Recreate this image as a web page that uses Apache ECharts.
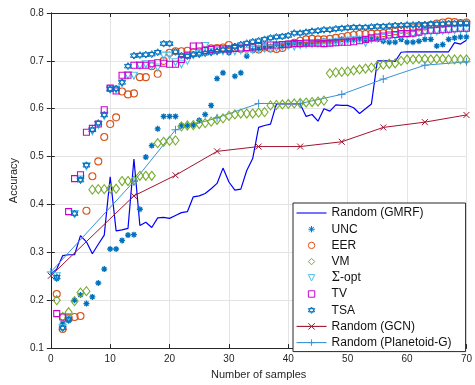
<!DOCTYPE html>
<html><head><meta charset="utf-8">
<script src="https://cdn.jsdelivr.net/npm/echarts@6/dist/echarts.min.js"></script>
<style>html,body{margin:0;padding:0;background:#fff}#c{width:475px;height:385px}</style>
</head><body><div id="c"></div>
<script>
// ---- data ----
const gmrfX = [];
for (let i = 0; i <= 70; i++) gmrfX.push(i);
const gmrf = [0.255,0.265,0.293,0.295,0.295,0.335,0.322,0.297,0.317,0.336,0.458,0.345,0.347,0.350,0.495,0.356,0.363,0.352,0.372,0.373,
  0.371,0.377,0.383,0.385,0.416,0.418,0.423,0.433,0.444,0.476,0.447,0.430,0.432,0.471,0.496,0.561,0.565,0.568,0.610,0.610,
  0.610,0.610,0.610,0.584,0.588,0.574,0.600,0.595,0.608,0.607,0.607,0.602,0.590,0.600,0.610,0.700,0.700,0.700,0.699,0.718,
  0.719,0.719,0.719,0.719,0.719,0.719,0.719,0.719,0.738,0.735,0.743];
const sampleX = [];
for (let i = 1; i <= 70; i++) sampleX.push(i);
const unc = [0.245,0.152,0.157,0.200,0.211,0.193,0.207,0.236,0.265,0.307,0.307,0.325,0.336,0.337,0.390,0.499,0.523,0.558,0.584,0.584,
  0.584,0.565,0.565,0.566,0.576,0.588,0.607,0.663,0.675,0.717,0.668,0.675,0.710,0.722,0.726,0.728,0.730,0.735,0.733,0.736,
  0.738,0.736,0.735,0.738,0.740,0.742,0.740,0.742,0.745,0.744,0.745,0.746,0.744,0.746,0.745,0.741,0.739,0.739,0.745,0.739,
  0.739,0.741,0.745,0.745,0.731,0.734,0.745,0.748,0.750,0.750];
const eer = [0.213,0.140,0.163,0.165,0.167,0.387,0.459,0.490,0.541,0.568,0.582,0.636,0.630,0.632,0.666,0.666,0.689,0.673,0.700,0.717,
  0.720,0.720,0.721,0.718,0.720,0.722,0.726,0.727,0.728,0.733,0.728,0.725,0.726,0.727,0.724,0.728,0.726,0.725,0.727,0.734,
  0.738,0.742,0.745,0.746,0.745,0.745,0.746,0.748,0.750,0.752,0.754,0.756,0.756,0.757,0.757,0.758,0.760,0.762,0.765,0.765,
  0.768,0.770,0.772,0.775,0.778,0.780,0.782,0.781,0.779,0.780];
const vm = [0.200,0.165,0.175,0.198,0.216,0.219,0.431,0.432,0.432,0.433,0.433,0.449,0.449,0.450,0.460,0.460,0.460,0.528,0.531,0.533,
  0.534,0.563,0.565,0.566,0.568,0.570,0.573,0.577,0.580,0.585,0.588,0.590,0.590,0.590,0.592,0.593,0.607,0.608,0.609,0.610,
  0.611,0.612,0.613,0.614,0.615,0.617,0.674,0.676,0.677,0.678,0.680,0.682,0.684,0.686,0.690,0.692,0.694,0.695,0.700,0.703,
  0.703,0.704,0.704,0.703,0.704,0.704,0.703,0.703,0.703,0.703];
const sigmaOpt = [0.250,0.142,0.165,0.380,0.452,0.480,0.553,0.566,0.585,0.640,0.640,0.653,0.670,0.669,0.690,0.693,0.690,0.686,0.711,0.711,
  0.697,0.693,0.700,0.712,0.715,0.731,0.718,0.720,0.720,0.722,0.720,0.722,0.720,0.723,0.724,0.726,0.725,0.728,0.730,0.732,
  0.730,0.733,0.734,0.735,0.736,0.737,0.738,0.739,0.740,0.742,0.743,0.744,0.738,0.745,0.747,0.748,0.750,0.752,0.753,0.755,
  0.756,0.758,0.760,0.761,0.762,0.763,0.764,0.764,0.765,0.765];
const tv = [0.172,0.165,0.385,0.454,0.462,0.551,0.559,0.568,0.598,0.643,0.637,0.670,0.670,0.691,0.691,0.691,0.694,0.696,0.695,0.693,
  0.693,0.703,0.712,0.731,0.731,0.722,0.724,0.725,0.725,0.725,0.726,0.727,0.728,0.729,0.730,0.731,0.733,0.733,0.734,0.735,
  0.736,0.736,0.737,0.737,0.737,0.736,0.737,0.738,0.739,0.739,0.740,0.742,0.745,0.748,0.750,0.752,0.754,0.755,0.757,0.757,
  0.758,0.760,0.763,0.764,0.764,0.765,0.766,0.767,0.768,0.768];
const tsa = [0.248,0.142,0.160,0.381,0.451,0.482,0.556,0.570,0.587,0.641,0.642,0.655,0.689,0.711,0.712,0.713,0.714,0.718,0.736,0.736,
  0.719,0.711,0.710,0.713,0.714,0.716,0.718,0.720,0.723,0.725,0.730,0.734,0.737,0.740,0.742,0.745,0.748,0.750,0.751,0.753,
  0.758,0.758,0.760,0.762,0.763,0.765,0.765,0.767,0.768,0.769,0.770,0.770,0.770,0.771,0.772,0.772,0.773,0.774,0.774,0.775,
  0.775,0.776,0.776,0.777,0.777,0.777,0.778,0.778,0.779,0.779];
const baseX = [0,14,21,28,35,42,49,56,63,70];
const gcn = [0.251,0.418,0.461,0.511,0.521,0.521,0.531,0.561,0.572,0.587];
const planetoid = [0.259,0.448,0.556,0.581,0.611,0.611,0.630,0.662,0.691,0.698];
const xTicks = [0,10,20,30,40,50,60,70];
const yTicks = [0.1,0.2,0.3,0.4,0.5,0.6,0.7,0.8];
const seriesNames = ['Random (GMRF)','UNC','EER','VM','Σ-opt','TV','TSA','Random (GCN)','Random (Planetoid-G)'];

// ---- styling ----
const pair = (xs, ys) => xs.map((x, i) => [x, ys[i]]);
const P = {
  asterisk: 'path://M5,0L5,10M0,5L10,5M1.5,1.5L8.5,8.5M1.5,8.5L8.5,1.5',
  hexagram: 'path://M5,0L9.33,7.5L0.67,7.5ZM5,10L0.67,2.5L9.33,2.5Z',
  cross: 'path://M0,0L10,10M10,0L0,10',
  plus: 'path://M5,0L5,10M0,5L10,5'
};
// marker-only series drawn as line series with invisible line (gives proper legend icons)
function markers(name, ys, color, symbol, size, bw, extra) {
  return Object.assign({
    name, type: 'line', data: pair(sampleX, ys), symbol, symbolSize: size,
    showSymbol: true, showAllSymbol: true,
    lineStyle: { width: 0, opacity: 0, color },
    itemStyle: { color: 'rgba(255,255,255,0)', borderColor: color, borderWidth: bw },
    emphasis: { disabled: true }
  }, extra || {});
}
const axisCol = '#262626';
const font = 'Liberation Sans, Arial, Helvetica, sans-serif';
const chart = echarts.init(document.getElementById('c'), null, { renderer: 'canvas' });
chart.setOption({
  animation: false,
  textStyle: { fontFamily: font },
  grid: { left: 45, right: 3, top: 13, bottom: 34 },
  xAxis: [{
    type: 'value', min: xTicks[0], max: xTicks[xTicks.length - 1], interval: 10,
    name: 'Number of samples', nameLocation: 'middle', nameGap: 17,
    nameTextStyle: { fontSize: 11, color: axisCol, fontFamily: font },
    axisLine: { lineStyle: { color: axisCol, width: 1 } },
    axisTick: { inside: true, length: 4, lineStyle: { color: axisCol } },
    axisLabel: { fontSize: 10, color: axisCol, margin: 6, fontFamily: font },
    splitLine: { lineStyle: { color: '#e4e4e4', width: 1 } }
  }, {
    type: 'value', position: 'top', min: 0, max: 70, interval: 10,
    axisLine: { show: true, lineStyle: { color: axisCol } },
    axisTick: { inside: true, length: 4, lineStyle: { color: axisCol } },
    axisLabel: { show: false }, splitLine: { show: false }
  }],
  yAxis: [{
    type: 'value', min: yTicks[0], max: yTicks[yTicks.length - 1], interval: 0.1,
    name: 'Accuracy', nameLocation: 'middle', nameGap: 22,
    nameTextStyle: { fontSize: 11, color: axisCol, fontFamily: font },
    axisLine: { show: true, lineStyle: { color: axisCol } },
    axisTick: { show: true, inside: true, length: 4, lineStyle: { color: axisCol } },
    axisLabel: { fontSize: 10, color: axisCol, margin: 7, fontFamily: font, formatter: v => v.toFixed(1) },
    splitLine: { lineStyle: { color: '#e4e4e4', width: 1 } }
  }, {
    type: 'value', position: 'right', min: 0.1, max: 0.8, interval: 0.1,
    axisLine: { show: true, lineStyle: { color: axisCol } },
    axisTick: { show: true, inside: true, length: 4, lineStyle: { color: axisCol } },
    axisLabel: { show: false }, splitLine: { show: false }
  }],
  legend: {
    orient: 'vertical', left: 293, top: 203,
    data: seriesNames,
    backgroundColor: '#fff', borderColor: axisCol, borderWidth: 1,
    padding: [3, 14, 2, 3], itemWidth: 30, itemHeight: 8, itemGap: 2.2,
    lineStyle: { width: 1.1 },
    itemStyle: { borderWidth: 1 },
    textStyle: { fontSize: 12, color: '#111', lineHeight: 14, fontFamily: font,
      rich: { s: { fontFamily: 'DejaVu Serif, Liberation Serif, serif', fontSize: 12, color: '#111' } } },
    formatter: n => n === 'Σ-opt' ? '{s|Σ}-opt' : n,
    selectedMode: false
  },
  series: [
    { name: seriesNames[0], type: 'line', data: pair(gmrfX, gmrf), symbol: 'circle', showSymbol: false,
      lineStyle: { color: '#0000ff', width: 1.2 },
      itemStyle: { color: 'rgba(0,0,0,0)', borderColor: 'rgba(0,0,0,0)', borderWidth: 0 }, z: 2 },
    markers(seriesNames[1], unc, '#0072BD', P.asterisk, 6, 1.3),
    markers(seriesNames[2], eer, '#D95319', 'circle', 7, 1.1),
    markers(seriesNames[3], vm, '#77AC30', 'diamond', [7, 9], 1.1),
    markers(seriesNames[4], sigmaOpt, '#4DBEEE', 'triangle', 7, 1.1, { symbolRotate: 180 }),
    markers(seriesNames[5], tv, '#CC00CC', 'rect', 6, 1.1),
    markers(seriesNames[6], tsa, '#0072BD', P.hexagram, 7, 1.0),
    { name: seriesNames[7], type: 'line', data: pair(baseX, gcn), symbol: P.cross, symbolSize: 6, showAllSymbol: true,
      lineStyle: { color: '#A2142F', width: 1 },
      itemStyle: { color: 'rgba(0,0,0,0)', borderColor: '#A2142F', borderWidth: 1 } },
    { name: seriesNames[8], type: 'line', data: pair(baseX, planetoid), symbol: P.plus, symbolSize: 8, showAllSymbol: true,
      lineStyle: { color: '#3a92d4', width: 1 },
      itemStyle: { color: 'rgba(0,0,0,0)', borderColor: '#3a92d4', borderWidth: 1 } }
  ]
});
</script></body></html>
